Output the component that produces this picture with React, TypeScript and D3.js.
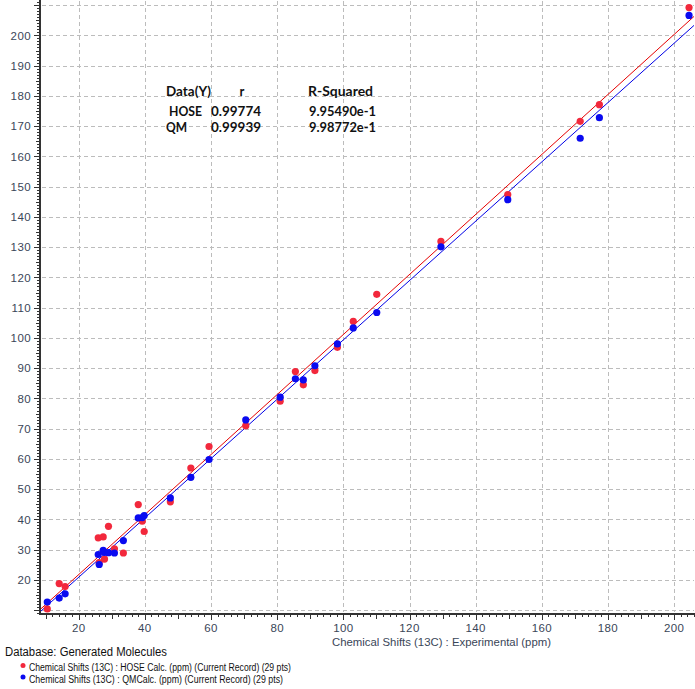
import React from "react";
import * as d3 from "d3";

const expX = [10.5, 14.1, 15.9, 25.9, 26.2, 27.4, 27.8, 29.0, 30.8, 33.5, 38.0, 39.2, 39.8, 47.7, 53.9, 59.4, 70.5, 80.9, 85.5, 87.9, 91.4, 98.2, 103.0, 110.1, 129.5, 149.7, 171.6, 177.4, 204.5];
const hoseY = [10.4, 18.8, 17.8, 33.9, 25.7, 34.2, 26.9, 37.7, 30.3, 28.9, 44.9, 39.4, 36.0, 45.8, 57.0, 64.1, 71.0, 79.1, 88.9, 84.5, 89.2, 96.9, 105.5, 114.4, 131.9, 147.4, 171.6, 177.1, 209.2];
const qmY = [12.7, 14.0, 15.4, 28.4, 25.1, 29.8, 29.1, 29.0, 28.9, 33.0, 40.5, 40.6, 41.3, 47.1, 53.9, 59.8, 72.9, 80.4, 86.5, 86.1, 90.8, 98.0, 103.3, 108.4, 130.1, 145.7, 166.0, 172.8, 206.6];

const statHeaders = ["Data(Y)", "r", "R-Squared"];
const statNames = ["HOSE", "QM"];
const statR = ["0.99774", "0.99939"];
const statR2 = ["9.95490e-1", "9.98772e-1"];

const xLabelTicks = [20, 40, 60, 80, 100, 120, 140, 160, 180, 200];
const yLabelTicks = [20, 30, 40, 50, 60, 70, 80, 90, 100, 110, 120, 130, 140, 150, 160, 170, 180, 190, 200];
const yGridTicks = [10, ...yLabelTicks, 210];

const xTitle = "Chemical Shifts (13C) : Experimental (ppm)";
const dbLabel = "Database: Generated Molecules";
const legendLabels = [
  "Chemical Shifts (13C) : HOSE Calc. (ppm) (Current Record) (29 pts)",
  "Chemical Shifts (13C) : QMCalc. (ppm) (Current Record) (29 pts)",
];

const RED = "#f2283c";
const BLUE = "#0a0af0";
const LINE_RED = "#e60000";
const LINE_BLUE = "#0000e6";
const TXT = "#3a4658";

function fit(xs: number[], ys: number[]) {
  const mx = d3.mean(xs)!;
  const my = d3.mean(ys)!;
  let sxy = 0, sxx = 0;
  xs.forEach((x, i) => {
    sxy += (x - mx) * (ys[i] - my);
    sxx += (x - mx) * (x - mx);
  });
  const b = sxy / sxx;
  return { b, a: my - b * mx };
}

export default function App() {
  const W = 695, H = 689;
  const x = d3.scaleLinear().domain([8.3, 206]).range([40, 694]);
  const y = d3.scaleLinear().domain([8.9, 211.2]).range([613.5, 1.5]);
  const [x0, x1] = x.domain();

  const series = [
    { ys: hoseY, color: RED, line: LINE_RED },
    { ys: qmY, color: BLUE, line: LINE_BLUE },
  ];

  const yMinor = d3.range(9, 212, 1);
  const xMinor = d3.range(10, 207, 2);

  return (
    <svg width={W} height={H} style={{ position: "absolute", left: 0, top: 0, background: "#fff" }}>
      <rect width={W} height={H} fill="#fff" />
      {/* grid */}
      <g stroke="#bcbcbc" strokeWidth={1} strokeDasharray="4,3">
        {xLabelTicks.map((t) => (
          <line key={"gx" + t} x1={Math.round(x(t)) + 0.5} x2={Math.round(x(t)) + 0.5} y1={1} y2={612} />
        ))}
        {yGridTicks.map((t) => (
          <line key={"gy" + t} x1={42} x2={694} y1={Math.round(y(t)) + 0.5} y2={Math.round(y(t)) + 0.5} />
        ))}
      </g>
      {/* regression lines */}
      {series.map((s, i) => {
        const { a, b } = fit(expX, s.ys);
        return (
          <line key={"fit" + i} x1={x(x0)} y1={y(a + b * x0)} x2={x(x1)} y2={y(a + b * x1)} stroke={s.line} strokeWidth={1} />
        );
      })}
      {/* points */}
      {series.map((s, i) => (
        <g key={"pts" + i} fill={s.color}>
          {expX.map((v, j) => (
            <circle key={j} cx={x(v)} cy={y(s.ys[j])} r={3.6} />
          ))}
        </g>
      ))}
      {/* axes */}
      <g stroke="#333" shapeRendering="crispEdges">
        <line x1={40} x2={40} y1={0} y2={614.5} strokeWidth={2} />
        <line x1={39} x2={694} y1={613.5} y2={613.5} strokeWidth={2} />
        {yMinor.map((t) => {
          const len = t % 10 === 0 ? 6 : t % 5 === 0 ? 4 : 3;
          const yy = Math.round(y(t)) + 0.5;
          return <line key={"yt" + t} x1={40 - len} x2={40} y1={yy} y2={yy} strokeWidth={1} />;
        })}
        {xMinor.map((t) => {
          const len = t % 20 === 0 ? 7 : t % 10 === 0 ? 6 : 4;
          const xx = Math.round(x(t)) + 0.5;
          return <line key={"xt" + t} x1={xx} x2={xx} y1={613} y2={613 + len} strokeWidth={1} />;
        })}
      </g>
      {/* tick labels */}
      <g fontFamily="'Liberation Sans', Arial, sans-serif" fontSize={11.5} fill={TXT}>
        {yLabelTicks.map((t) => (
          <text key={"yl" + t} x={31} y={y(t)} dy="0.36em" textAnchor="end" letterSpacing={0.4}>
            {t}
          </text>
        ))}
        {xLabelTicks.map((t) => (
          <text key={"xl" + t} x={x(t)} y={631.5} textAnchor="middle" letterSpacing={0.4}>
            {t}
          </text>
        ))}
        <text x={332} y={646} textLength={219} lengthAdjust="spacingAndGlyphs">
          {xTitle}
        </text>
      </g>
      {/* stats box */}
      <g fontFamily="Lato, 'Open Sans', sans-serif" fontWeight="bold" fontSize={13} fill="#111">
        <text x={166} y={96} textLength={45} lengthAdjust="spacingAndGlyphs">{statHeaders[0]}</text>
        <text x={242} y={96} textAnchor="middle">{statHeaders[1]}</text>
        <text x={308} y={96} textLength={65} lengthAdjust="spacingAndGlyphs">{statHeaders[2]}</text>
        {statNames.map((n, i) => (
          <g key={n}>
            <text x={i === 0 ? 169 : 166} y={115.5 + i * 16.5} textLength={i === 0 ? 33 : 21} lengthAdjust="spacingAndGlyphs">{n}</text>
            <text x={211} y={115.5 + i * 16.5} textLength={50} lengthAdjust="spacingAndGlyphs">{statR[i]}</text>
            <text x={309} y={115.5 + i * 16.5} textLength={67} lengthAdjust="spacingAndGlyphs">{statR2[i]}</text>
          </g>
        ))}
      </g>
      {/* legend */}
      <g fontFamily="'Liberation Sans', Arial, sans-serif" fill="#111">
        <text x={5} y={656} fontSize={12} textLength={162} lengthAdjust="spacingAndGlyphs">{dbLabel}</text>
        {legendLabels.map((l, i) => (
          <g key={l}>
            <circle cx={23} cy={665.5 + i * 11.5} r={2.5} fill={i === 0 ? RED : BLUE} />
            <text x={29} y={671 + i * 12} fontSize={10} textLength={i === 0 ? 262 : 254} lengthAdjust="spacingAndGlyphs">{l}</text>
          </g>
        ))}
      </g>
    </svg>
  );
}
